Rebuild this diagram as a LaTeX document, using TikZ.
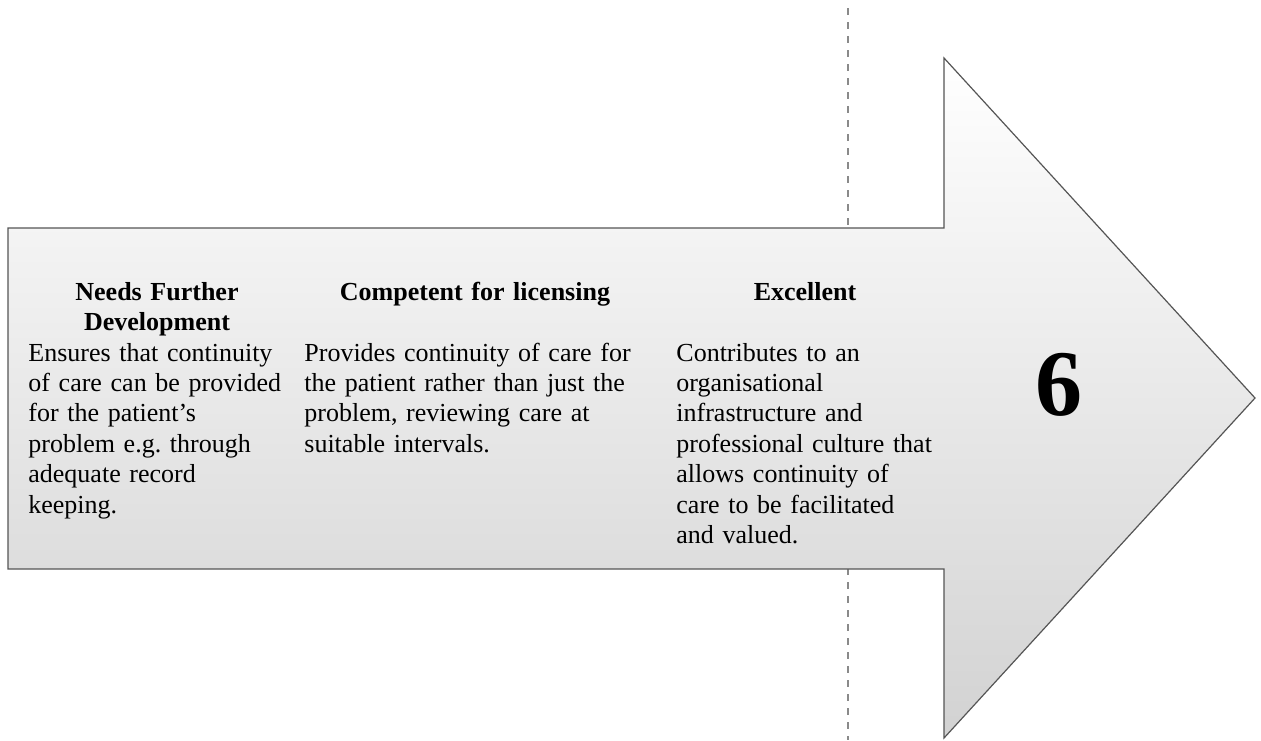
\documentclass[tikz,border=0pt]{standalone}
\usepackage{fontspec}
\setmainfont{Liberation Serif}
\frenchspacing
\definecolor{arrowtop}{HTML}{FFFFFF}
\definecolor{arrowbottom}{HTML}{D2D2D2}
\definecolor{outlinegray}{HTML}{555555}
\definecolor{dividergray}{HTML}{8A8A8A}
\tikzset{
  band/.style={
    draw=outlinegray,
    line width=0.6pt,
    top color=arrowtop,
    bottom color=arrowbottom,
  },
  divider/.style={
    draw=dividergray,
    line width=0.8pt,
    dash pattern=on 3.4pt off 3.6pt,
  },
  heading/.style={
    anchor=base,
    inner sep=0pt,
    align=center,
    text width=150pt,
    font=\fontsize{13}{15.2}\selectfont\bfseries,
  },
  descriptor/.style={
    anchor=base west,
    inner sep=0pt,
    align=left,
    text width=175pt,
    font=\fontsize{13}{15.2}\selectfont,
  },
  levelnum/.style={
    anchor=base,
    inner sep=0pt,
    font=\fontsize{47}{47}\selectfont\bfseries,
  },
}

\begin{document}
\begin{tikzpicture}[x=0.5pt, y=-0.5pt]
  \useasboundingbox (0,0) rectangle (1261,740);

  % dashed marker behind the arrow
  \coordinate (divtop) at (848,8);
  \coordinate (divbottom) at (848,740);
  \draw[divider] (divtop) -- (divbottom);

  % the arrow itself
  \path[band]
    (8,228) -- (944,228) -- (944,58) -- (1255,398)
    -- (944,738) -- (944,569) -- (8,569) -- cycle;

  % column headings
  \node[heading] (needshead) at (157,300) {Needs Further\\Development};
  \node[heading] (comphead) at (475,300) {Competent for licensing};
  \node[heading] (excelhead) at (805,300) {Excellent};

  % column descriptors
  \node[descriptor] (needstext) at (28,361) {
    Ensures that continuity\\
    of care can be provided\\
    for the patient’s\\
    problem e.g. through\\
    adequate record\\
    keeping.
  };
  \node[descriptor] (comptext) at (304,361) {
    Provides continuity of care for\\
    the patient rather than just the\\
    problem, reviewing care at\\
    suitable intervals.
  };
  \node[descriptor] (exceltext) at (676,361) {
    Contributes to an\\
    organisational\\
    infrastructure and\\
    professional culture that\\
    allows continuity of\\
    care to be facilitated\\
    and valued.
  };

  \node[levelnum] (level) at (1059,415) {6};
\end{tikzpicture}
\end{document}
